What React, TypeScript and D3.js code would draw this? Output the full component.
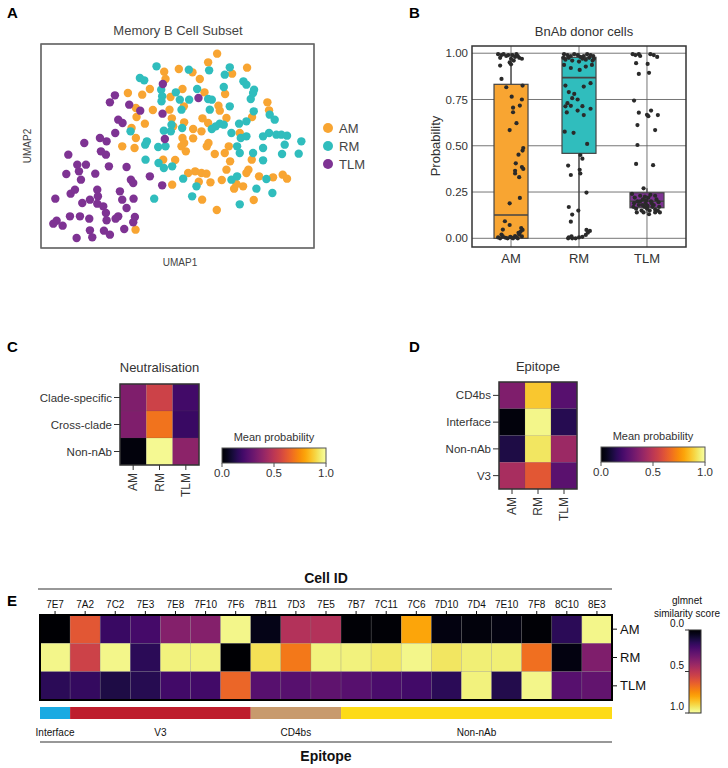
import React from "react";
import * as d3 from "d3";

const FONT = "Liberation Sans, Arial, Helvetica, sans-serif";

// ---------- Panel A: UMAP ----------
const umapAM: [number, number][] = [
  [6.52,6.38],[6.25,6.12],[7.42,5.96],[5.37,5.92],[4.93,5.84],[5.78,5.82],[6.97,5.78],[6.00,5.62],[4.97,5.62],
  [5.48,5.32],[6.14,5.22],[6.76,5.17],[5.12,5.08],[4.50,5.32],[4.27,5.15],[3.84,5.20],[4.08,4.75],[4.10,4.48],
  [4.59,4.69],[5.09,4.70],[5.16,4.44],[5.52,4.80],[6.56,4.82],[6.60,4.67],[6.80,4.45],[6.08,4.44],[6.25,4.30],
  [8.03,4.92],[8.08,4.68],[7.57,4.48],[7.20,4.00],[5.53,4.32],[5.20,4.20],[5.80,4.12],[6.05,4.05],[5.48,3.85],
  [5.53,3.70],[5.58,3.45],[4.35,4.28],[3.95,4.15],[4.08,3.85],[3.67,3.60],[4.04,3.55],[6.26,3.70],[6.21,3.60],
  [6.87,3.60],[6.75,3.40],[6.45,3.37],[5.80,3.84],[4.90,3.20],[5.26,3.19],[6.91,3.15],[6.80,2.90],[7.56,3.20],
  [7.46,2.90],[7.40,2.80],[7.78,2.70],[8.20,2.67],[8.49,2.75],[8.62,2.63],[7.30,2.40],[7.03,2.33],[7.10,2.47],
  [6.66,2.59],[6.32,2.52],[5.97,2.54],[5.86,2.85],[5.65,2.80],[6.05,2.80],[6.20,2.78],[5.17,2.45],[6.07,2.00],
  [6.51,1.69],[7.62,1.99],[4.07,1.10],[5.45,3.60]
];
const umapRM: [number, number][] = [
  [4.70,6.00],[5.67,5.90],[6.28,5.88],[6.90,5.97],[6.75,5.75],[4.20,5.65],[4.33,5.58],[4.84,5.30],[4.87,5.10],
  [4.85,4.95],[5.28,5.22],[5.40,5.00],[5.92,5.32],[5.68,5.00],[6.25,5.02],[6.36,5.00],[5.45,4.70],[6.30,4.70],
  [7.31,5.55],[7.40,5.45],[7.63,5.30],[7.53,5.02],[6.90,4.80],[6.72,5.38],[7.62,4.65],[7.40,4.35],[7.18,4.28],
  [8.10,4.55],[8.25,4.40],[6.95,4.00],[7.23,3.85],[7.40,3.90],[7.12,3.60],[7.20,3.40],[7.60,3.40],[7.90,3.90],
  [8.08,4.00],[8.30,3.95],[8.45,3.95],[8.62,3.92],[8.55,3.65],[8.47,3.37],[9.05,3.75],[8.97,3.38],[7.90,3.18],
  [7.90,3.55],[5.47,4.15],[5.13,4.05],[5.15,4.25],[4.92,4.07],[4.41,3.75],[4.36,3.65],[4.75,3.58],[4.97,3.60],
  [4.76,3.10],[4.92,2.95],[5.17,3.00],[4.37,3.20],[5.50,2.63],[4.63,2.03],[5.77,2.10],[5.90,2.40],[6.95,2.60],
  [7.12,2.70],[7.70,2.33],[8.18,2.20],[7.20,1.86],[8.00,2.62],[6.48,4.20],[6.60,4.28],[6.72,4.25],[6.36,4.12],
  [3.92,4.05],[7.60,5.20]
];
const umapTLM: [number, number][] = [
  [4.89,5.47],[5.96,5.05],[3.45,5.13],[3.30,4.92],[3.88,4.85],[4.21,4.67],[4.88,4.58],[3.55,4.40],[3.68,4.30],
  [3.46,4.00],[3.00,3.85],[3.20,3.75],[2.53,3.70],[3.03,3.45],[3.18,3.35],[2.05,3.35],[2.32,3.05],[2.58,3.05],
  [2.37,2.85],[2.43,2.60],[2.86,2.78],[1.99,2.77],[3.27,3.00],[3.80,2.98],[3.93,2.60],[4.00,2.50],[4.50,2.70],
  [4.87,2.43],[1.66,2.03],[2.12,2.18],[2.25,2.30],[2.92,2.30],[2.94,2.10],[2.70,2.00],[2.47,1.90],[2.92,1.88],
  [3.10,1.80],[3.18,1.60],[3.60,2.25],[3.67,2.00],[4.01,2.03],[3.80,1.75],[3.55,1.50],[3.47,1.43],[3.20,1.38],
  [2.40,1.50],[2.10,1.50],[2.68,1.43],[1.60,1.28],[1.70,1.37],[1.88,1.22],[2.30,0.85],[2.77,0.87],[2.70,1.08],
  [3.12,1.07],[3.30,0.95],[3.73,1.12],[4.00,1.32],[4.05,1.48],[4.95,3.82]
];
const groups = ["AM", "RM", "TLM"];
const groupColors = ["#F8A532", "#30BDBD", "#7E3393"];

// ---------- Panel B: box + jitter ----------
const boxQ1 = [0.0, 0.459, 0.165];
const boxMedian = [0.126, 0.868, 0.2];
const boxQ3 = [0.832, 0.978, 0.246];
const whiskerLow = [0.0, 0.0, 0.135];
const whiskerHigh = [1.0, 1.0, 0.27];
const probTicks = [0, 0.25, 0.5, 0.75, 1.0];
// [jitter (fraction of category step), probability]
const jitterAM: [number, number][] = [
  [-0.19,0.995],[-0.14,0.99],[-0.11,0.995],[-0.07,0.985],[-0.04,0.99],[0,0.97],[0.02,0.99],[0.06,0.98],[0.08,0.995],
  [0.12,0.975],[0.16,0.97],[-0.16,0.975],[0.04,0.96],[-0.02,0.95],[0.1,0.985],
  [-0.16,0.933],[0,0.94],[-0.14,0.861],[-0.07,0.816],[0.17,0.825],[0.01,0.765],[0.16,0.75],[0.13,0.717],[0.03,0.706],
  [0.03,0.681],[0.08,0.622],[-0.02,0.585],[0.18,0.488],[0.17,0.474],[0.11,0.452],[0.07,0.405],[0.06,0.365],[0.06,0.35],
  [0.16,0.385],[0.18,0.375],[0.12,0.33],[0.13,0.218],[-0.02,0.189],[-0.09,0.092],[-0.02,0.072],[-0.12,0.047],
  [-0.19,0.005],[-0.16,0.0],[-0.12,0.01],[-0.08,0.003],[-0.05,0.0],[-0.01,0.008],[0.02,0.002],[0.06,0.012],[0.1,0.0],
  [0.12,0.02],[0.14,0.035],[0.17,0.045],[0.16,0.01],[0.11,0.03],[-0.14,0.02],[0.03,0.0],[0.08,0.005],[0.15,0.055]
];
const jitterRM: [number, number][] = [
  [-0.22,0.995],[-0.17,0.99],[-0.12,0.985],[-0.07,0.995],[-0.02,0.99],[0.02,0.98],[0.07,0.985],[0.12,0.995],[0.17,0.99],
  [0.21,0.985],[-0.2,0.965],[-0.1,0.96],[0,0.955],[0.1,0.965],[0.2,0.96],[-0.15,0.975],[0.05,0.97],[0.15,0.975],
  [-0.23,0.975],[0.22,0.97],
  [-0.22,0.937],[-0.12,0.92],[0.01,0.91],[0.1,0.928],[0.19,0.937],[0.17,0.838],[0.07,0.82],[-0.2,0.825],[-0.15,0.79],
  [-0.07,0.78],[-0.1,0.757],[-0.02,0.75],[-0.17,0.73],[-0.2,0.713],[-0.12,0.716],[0.05,0.714],[-0.18,0.68],[-0.02,0.69],
  [0.17,0.7],[0.07,0.666],[-0.21,0.576],[-0.08,0.57],[0.12,0.51],
  [-0.16,0.393],[-0.12,0.342],[0.02,0.45],[0.05,0.43],[0.01,0.37],[0.02,0.35],[0.11,0.247],[-0.15,0.169],[-0.1,0.128],
  [-0.12,0.09],[-0.01,0.15],[-0.15,0.005],[-0.1,0.0],[-0.05,0.0],[0,0.005],[0.05,0.008],[0.1,0.018],[0.13,0.03],
  [0.16,0.04],[0.11,0.045],[-0.16,0.0],[-0.11,0.01]
];
const jitterTLM: [number, number][] = [
  [-0.21,0.995],[-0.17,0.99],[-0.12,0.995],[-0.1,0.985],[0.05,0.995],[0.1,0.99],[0.15,0.98],[-0.16,0.946],[0.01,0.942],
  [-0.12,0.888],[0.03,0.894],[-0.19,0.744],[-0.12,0.679],[-0.14,0.612],[0,0.667],[0.02,0.66],[0.06,0.69],[0.16,0.666],
  [0.12,0.585],[-0.14,0.504],[-0.16,0.402],[0.09,0.395],[-0.05,0.27],
  [-0.22,0.24],[-0.18,0.22],[-0.14,0.2],[-0.1,0.23],[-0.06,0.21],[-0.02,0.19],[0.02,0.22],[0.06,0.2],[0.1,0.18],
  [0.14,0.21],[0.18,0.17],[-0.2,0.17],[-0.16,0.16],[-0.12,0.18],[-0.08,0.15],[-0.04,0.17],[0,0.16],[0.04,0.15],
  [0.08,0.17],[0.12,0.155],[0.16,0.15],[-0.1,0.2],[-0.03,0.225],[0.05,0.235],[0.12,0.23],[-0.15,0.14],[-0.05,0.14],
  [0.03,0.13],[0.12,0.14],[0.19,0.14],[-0.01,0.205],[0.07,0.19],[-0.19,0.19],[0.17,0.195],[-0.07,0.18],[0.01,0.175]
];
const jitterAll = [jitterAM, jitterRM, jitterTLM];

// ---------- Panel C: Neutralisation ----------
const neutCats = ["Clade-specific", "Cross-clade", "Non-nAb"];
const neutValues = [
  [0.35, 0.55, 0.2],
  [0.35, 0.69, 0.18],
  [0.02, 0.98, 0.38],
];

// ---------- Panel D: Epitope ----------
const epiCats = ["CD4bs", "Interface", "Non-nAb", "V3"];
const epiValues = [
  [0.35, 0.87, 0.25],
  [0.02, 0.97, 0.14],
  [0.12, 0.93, 0.42],
  [0.45, 0.62, 0.26],
];
const cbTicks = [0, 0.5, 1.0];

// ---------- Panel E: glmnet similarity ----------
const cellIds = ["7E7","7A2","7C2","7E3","7E8","7F10","7F6","7B11","7D3","7E5","7B7","7C11","7C6","7D10","7D4","7E10","7F8","8C10","8E3"];
const simAM = [0.0, 0.62, 0.18, 0.21, 0.36, 0.36, 0.97, 0.04, 0.48, 0.48, 0.01, 0.01, 0.8, 0.03, 0.02, 0.03, 0.01, 0.15, 0.97];
const simRM = [0.97, 0.55, 0.97, 0.15, 0.96, 0.96, 0.0, 0.92, 0.7, 0.96, 0.96, 0.94, 0.97, 0.93, 0.95, 0.95, 0.68, 0.03, 0.35];
const simTLM = [0.15, 0.17, 0.12, 0.14, 0.2, 0.2, 0.66, 0.25, 0.25, 0.27, 0.25, 0.22, 0.2, 0.15, 0.96, 0.13, 0.97, 0.25, 0.28];
const simRows = [simAM, simRM, simTLM];
const epitopeNames = ["Interface", "V3", "CD4bs", "Non-nAb"];
const epitopeCounts = [1, 6, 3, 9];
const epitopeColors = ["#1AAAE2", "#BE1E2D", "#C89A6D", "#FDDB17"];

const inferno = d3.interpolateInferno;
const gradStops = d3.range(0, 1.0001, 0.05);

function Heat({ cats, values, x0, x1, y0, y1, title, titleY }: any) {
  const xs = d3.scaleBand().domain(groups).range([x0, x1]);
  const ys = d3.scaleBand().domain(cats).range([y0, y1]);
  return (
    <g fontFamily={FONT}>
      <text x={(x0 + x1) / 2} y={titleY} textAnchor="middle" fontSize={13} fill="#333">{title}</text>
      {cats.map((c: string, i: number) =>
        groups.map((g, j) => (
          <rect key={c + g} x={xs(g)} y={ys(c)} width={xs.bandwidth()} height={ys.bandwidth()}
            fill={inferno(values[i][j])} stroke="#555" strokeOpacity={0.25} strokeWidth={0.5} />
        ))
      )}
      <rect x={x0} y={y0} width={x1 - x0} height={y1 - y0} fill="none" stroke="#333" strokeWidth={1.5} />
      {cats.map((c: string) => (
        <g key={c}>
          <line x1={x0 - 6} x2={x0} y1={ys(c)! + ys.bandwidth() / 2} y2={ys(c)! + ys.bandwidth() / 2} stroke="#333" />
          <text x={x0 - 8} y={ys(c)! + ys.bandwidth() / 2} dy="0.35em" textAnchor="end" fontSize={11.5} fill="#333">{c}</text>
        </g>
      ))}
      {groups.map((g) => {
        const cx = xs(g)! + xs.bandwidth() / 2;
        return (
          <g key={g}>
            <line x1={cx} x2={cx} y1={y1} y2={y1 + 5} stroke="#333" />
            <text transform={`translate(${cx},${y1 + 8}) rotate(-90)`} dy="0.35em" textAnchor="end" fontSize={12} fill="#333">{g}</text>
          </g>
        );
      })}
    </g>
  );
}

function ColorBarH({ x0, x1, y0, h, id }: any) {
  const s = d3.scaleLinear().domain([0, 1]).range([x0, x1]);
  return (
    <g fontFamily={FONT}>
      <text x={(x0 + x1) / 2} y={y0 - 7} textAnchor="middle" fontSize={11} fill="#333">Mean probability</text>
      <rect x={x0} y={y0} width={x1 - x0} height={h} fill={`url(#${id})`} stroke="#555" strokeWidth={1} />
      {cbTicks.map((t) => (
        <g key={t}>
          <line x1={s(t)} x2={s(t)} y1={y0 + h} y2={y0 + h + 4} stroke="#555" />
          <text x={s(t)} y={y0 + h + 14} textAnchor="middle" fontSize={11.5} fill="#333">{t.toFixed(1)}</text>
        </g>
      ))}
    </g>
  );
}

export default function App() {
  // Panel A
  const xA = d3.scaleLinear().domain([1.23, 9.43]).range([41, 314]);
  const yA = d3.scaleLinear().domain([0.55, 6.67]).range([248, 44]);
  const umapAll = [umapAM, umapRM, umapTLM];

  // Panel B
  const xB = d3.scalePoint().domain(groups).range([472, 686]).padding(0.574);
  const yB = d3.scaleLinear().domain([-0.047, 1.039]).range([247, 46]);
  const boxHalf = 17;

  // Panel E
  const xE = d3.scaleBand().domain(cellIds).range([40, 612]);
  const yE = d3.scaleBand().domain(groups).range([615, 700]);
  const cbE = d3.scaleLinear().domain([0, 1]).range([630, 713]);
  let acc = 0;
  const segs = epitopeNames.map((n, i) => {
    const start = acc;
    acc += epitopeCounts[i];
    return { name: n, start, end: acc, color: epitopeColors[i] };
  });

  return (
    <svg width={728} height={768} style={{ position: "absolute", left: 0, top: 0, background: "#fff" }} fontFamily={FONT}>
      <defs>
        <linearGradient id="gradH" x1="0" x2="1" y1="0" y2="0">
          {gradStops.map((t) => <stop key={t} offset={t} stopColor={inferno(t)} />)}
        </linearGradient>
        <linearGradient id="gradV" x1="0" x2="0" y1="0" y2="1">
          {gradStops.map((t) => <stop key={t} offset={t} stopColor={inferno(t)} />)}
        </linearGradient>
      </defs>
      <rect width={728} height={768} fill="#fff" />

      {/* Panel labels */}
      <g fontWeight="bold" fontSize={15} fill="#000">
        <text x={7} y={18}>A</text>
        <text x={409} y={18}>B</text>
        <text x={7} y={352}>C</text>
        <text x={409} y={352}>D</text>
        <text x={7} y={606}>E</text>
      </g>

      {/* Panel A */}
      <g>
        <text x={178} y={35} textAnchor="middle" fontSize={13} fill="#444">Memory B Cell Subset</text>
        <rect x={41} y={44} width={273} height={204} fill="#fff" stroke="#666" strokeWidth={1.2} />
        {umapAll.map((pts, gi) =>
          pts.map((p, i) => (
            <circle key={gi + "-" + i} cx={xA(p[0])} cy={yA(p[1])} r={4.2} fill={groupColors[gi]} />
          ))
        )}
        <rect x={41} y={44} width={273} height={204} fill="none" stroke="#666" strokeWidth={1.2} />
        <text x={180} y={266} textAnchor="middle" fontSize={10} fill="#444">UMAP1</text>
        <text transform="translate(31,146) rotate(-90)" textAnchor="middle" fontSize={10} fill="#444">UMAP2</text>
        {groups.map((g, i) => (
          <g key={g}>
            <circle cx={328} cy={128 + i * 18} r={5} fill={groupColors[i]} />
            <text x={339} y={128 + i * 18} dy="0.35em" fontSize={13} fill="#444">{g}</text>
          </g>
        ))}
      </g>

      {/* Panel B */}
      <g>
        <text x={584} y={36} textAnchor="middle" fontSize={13} fill="#333">BnAb donor cells</text>
        <rect x={472} y={46} width={214} height={201} fill="#fff" />
        {probTicks.map((t) => (
          <line key={t} x1={472} x2={686} y1={yB(t)} y2={yB(t)} stroke="#666" strokeWidth={0.9} />
        ))}
        {groups.map((g) => (
          <line key={g} x1={xB(g)} x2={xB(g)} y1={46} y2={247} stroke="#666" strokeWidth={0.9} />
        ))}
        {groups.map((g, i) => {
          const cx = xB(g)!;
          return (
            <g key={g}>
              <line x1={cx} x2={cx} y1={yB(whiskerHigh[i])} y2={yB(boxQ3[i])} stroke="#444" strokeWidth={1.2} />
              <line x1={cx} x2={cx} y1={yB(boxQ1[i])} y2={yB(whiskerLow[i])} stroke="#444" strokeWidth={1.2} />
              <rect x={cx - boxHalf} y={yB(boxQ3[i])} width={boxHalf * 2} height={yB(boxQ1[i]) - yB(boxQ3[i])}
                fill={groupColors[i]} stroke="#444" strokeWidth={1.2} />
              <line x1={cx - boxHalf} x2={cx + boxHalf} y1={yB(boxMedian[i])} y2={yB(boxMedian[i])} stroke="#444" strokeWidth={1.6} />
            </g>
          );
        })}
        {groups.map((g, gi) =>
          jitterAll[gi].map((p, i) => (
            <circle key={g + i} cx={xB(g)! + p[0] * xB.step()} cy={yB(p[1])} r={2.1} fill="#2a2a2a" />
          ))
        )}
        <rect x={472} y={46} width={214} height={201} fill="none" stroke="#333" strokeWidth={1.5} />
        {probTicks.map((t) => (
          <text key={t} x={468} y={yB(t)} dy="0.35em" textAnchor="end" fontSize={11.5} fill="#333">{t.toFixed(2)}</text>
        ))}
        {groups.map((g) => (
          <text key={g} x={xB(g)} y={263} textAnchor="middle" fontSize={13} fill="#333">{g}</text>
        ))}
        <text transform="translate(440,146) rotate(-90)" textAnchor="middle" fontSize={13} fill="#333">Probability</text>
      </g>

      {/* Panel C */}
      <Heat cats={neutCats} values={neutValues} x0={120} x1={199} y0={384} y1={465} title="Neutralisation" titleY={372} />
      <ColorBarH x0={222} x1={326} y0={448} h={15} id="gradH" />

      {/* Panel D */}
      <Heat cats={epiCats} values={epiValues} x0={499} x1={577} y0={382} y1={489} title="Epitope" titleY={371} />
      <ColorBarH x0={601} x1={705} y0={447} h={15} id="gradH" />

      {/* Panel E */}
      <g>
        <text x={326} y={583} textAnchor="middle" fontSize={14} fontWeight="bold" fill="#111">Cell ID</text>
        <line x1={38} x2={612} y1={589} y2={589} stroke="#333" strokeWidth={1.2} />
        {cellIds.map((c) => {
          const cx = xE(c)! + xE.bandwidth() / 2;
          return (
            <g key={c}>
              <text x={cx} y={604} dy="0.35em" textAnchor="middle" fontSize={10} fill="#111">{c}</text>
              <line x1={cx} x2={cx} y1={611} y2={615} stroke="#111" />
            </g>
          );
        })}
        {groups.map((g, ri) =>
          cellIds.map((c, ci) => (
            <rect key={g + c} x={xE(c)} y={yE(g)} width={xE.bandwidth()} height={yE.bandwidth()}
              fill={inferno(simRows[ri][ci])} stroke="#777" strokeOpacity={0.35} strokeWidth={0.6} />
          ))
        )}
        <rect x={40} y={615} width={572} height={85} fill="none" stroke="#000" strokeWidth={2} />
        {groups.map((g) => {
          const cy = yE(g)! + yE.bandwidth() / 2;
          return (
            <g key={g}>
              <line x1={612} x2={617} y1={cy} y2={cy} stroke="#111" />
              <text x={620} y={cy} dy="0.35em" fontSize={13} fill="#111">{g}</text>
            </g>
          );
        })}
        {segs.map((s) => (
          <g key={s.name}>
            <rect x={xE(cellIds[s.start])} y={707} width={xE(cellIds[s.end - 1])! + xE.bandwidth() - xE(cellIds[s.start])!} height={12} fill={s.color} />
            <text x={(xE(cellIds[s.start])! + xE(cellIds[s.end - 1])! + xE.bandwidth()) / 2} y={732} dy="0.35em"
              textAnchor="middle" fontSize={10} fill="#111">{s.name}</text>
          </g>
        ))}
        <line x1={40} x2={612} y1={742} y2={742} stroke="#333" strokeWidth={1.2} />
        <text x={326} y={761} textAnchor="middle" fontSize={14} fontWeight="bold" fill="#111">Epitope</text>

        <text x={687} y={604} textAnchor="middle" fontSize={10} fill="#111">glmnet</text>
        <text x={687} y={617} textAnchor="middle" fontSize={10} fill="#111">similarity score</text>
        <rect x={689} y={630} width={12} height={83} fill="url(#gradV)" stroke="#333" strokeWidth={1} />
        {cbTicks.map((t) => (
          <g key={t}>
            <line x1={685} x2={689} y1={cbE(t)} y2={cbE(t)} stroke="#333" />
            <text x={684} y={cbE(t) - 3} textAnchor="end" fontSize={10} fill="#111">{t.toFixed(1)}</text>
          </g>
        ))}
      </g>
    </svg>
  );
}
